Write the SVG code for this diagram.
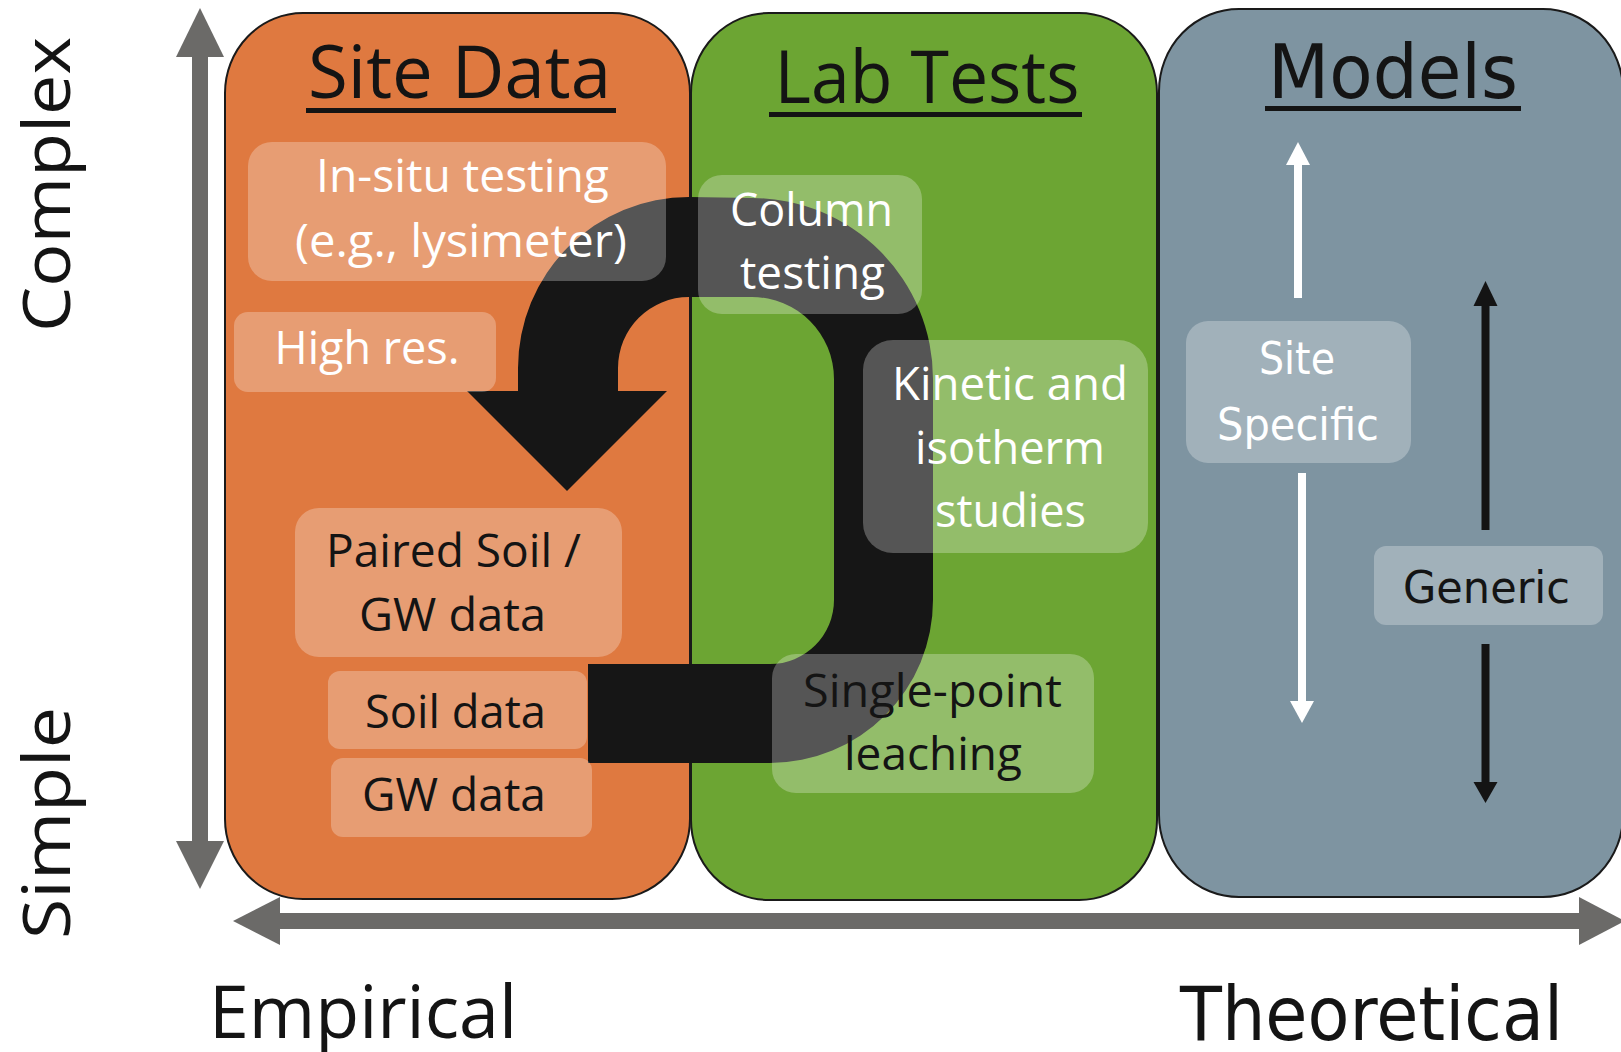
<svg xmlns="http://www.w3.org/2000/svg" width="1621" height="1052" viewBox="0 0 1621 1052">
<style>
.panel{stroke:#1a1a1a;stroke-width:2}
.box{fill:#ffffff;fill-opacity:0.27}
.t{font-family:"Open Sans","Liberation Sans",sans-serif;text-anchor:middle}
.v{font-family:"DejaVu Sans","Liberation Sans",sans-serif;text-anchor:middle}
.w{fill:#ffffff}
.k{fill:#141414}
.axis{fill:#6b6a68}
</style>
<rect width="1621" height="1052" fill="#ffffff"/>

<g id="axes">
  <rect class="axis" x="192" y="55" width="16" height="788"/>
  <polygon class="axis" points="176,57 200,8 224,57"/>
  <polygon class="axis" points="176,841 200,889 224,841"/>
  <rect class="axis" x="278" y="913" width="1303" height="16"/>
  <polygon class="axis" points="280,897 233,921 280,945"/>
  <polygon class="axis" points="1579,897 1625,921 1579,945"/>
  <text class="t k" font-size="66" transform="translate(70,184.5) rotate(-90)" textLength="295" lengthAdjust="spacingAndGlyphs">Complex</text>
  <text class="t k" font-size="66" transform="translate(70,823) rotate(-90)" textLength="232" lengthAdjust="spacingAndGlyphs">Simple</text>
  <text class="t k" font-size="74" x="363" y="1038" textLength="308" lengthAdjust="spacingAndGlyphs">Empirical</text>
  <text class="v k" font-size="74" x="1371.5" y="1040" textLength="383" lengthAdjust="spacingAndGlyphs">Theoretical</text>
</g>

<g id="site-data">
  <rect class="panel" x="225" y="13" width="465" height="886" rx="78" ry="80" fill="#df7940"/>
  <text class="t k" font-size="74" x="459.5" y="98" textLength="303" lengthAdjust="spacingAndGlyphs">Site Data</text>
  <rect x="306" y="108" width="310" height="5" fill="#141414"/>
</g>
<g id="lab-tests">
  <rect class="panel" x="691" y="13" width="466" height="887" rx="78" ry="80" fill="#6ca533"/>
  <text class="t k" font-size="74" x="927" y="103" textLength="305" lengthAdjust="spacingAndGlyphs">Lab Tests</text>
  <rect x="769" y="112" width="313" height="5" fill="#141414"/>
</g>
<g id="models">
  <rect class="panel" x="1159" y="9" width="464" height="888" rx="80" ry="82" fill="#7e94a1"/>
  <text class="v k" font-size="74" x="1393" y="98" textLength="250" lengthAdjust="spacingAndGlyphs">Models</text>
  <rect x="1265" y="106" width="256" height="5" fill="#141414"/>
</g>

<g id="connectors">
  <path id="cycle-arrow" fill="#161616" d="M567,491 L667,391 L618,391 L618,368 A71,71 0 0 1 689,297 L752,297 A82,82 0 0 1 834,379 L834,600 A64,64 0 0 1 770,664 L588,664 L588,763 L770,763 A163,163 0 0 0 933,600 L933,379 A181,181 0 0 0 752,198 L689,197 A171,171 0 0 0 518,368 L518,391 L467,391 Z"/>
  <g id="site-specific-arrows" fill="#ffffff">
    <rect x="1294" y="163" width="8" height="135"/>
    <polygon points="1286,165 1298,142 1310,165"/>
    <rect x="1298" y="473" width="8" height="230"/>
    <polygon points="1290,701 1314,701 1302,723"/>
  </g>
  <g id="generic-arrows" fill="#141414">
    <rect x="1481.5" y="304" width="8" height="226"/>
    <polygon points="1473.5,306 1485.5,281 1497.5,306"/>
    <rect x="1481.5" y="644" width="8" height="140"/>
    <polygon points="1473.5,782 1497.5,782 1485.5,803"/>
  </g>
</g>

<g id="in-situ">
  <rect class="box" x="248" y="142" width="418" height="139" rx="24"/>
  <text class="t w" font-size="45" x="462.5" y="192" textLength="293" lengthAdjust="spacingAndGlyphs">In-situ testing</text>
  <text class="t w" font-size="45" x="461" y="257" textLength="332" lengthAdjust="spacingAndGlyphs">(e.g., lysimeter)</text>
</g>
<g id="high-res">
  <rect class="box" x="234" y="312" width="262" height="80" rx="14"/>
  <text class="t w" font-size="45" x="367" y="364" textLength="185" lengthAdjust="spacingAndGlyphs">High res.</text>
</g>
<g id="paired">
  <rect class="box" x="295" y="508" width="327" height="149" rx="24"/>
  <text class="t k" font-size="45" x="453.5" y="567" textLength="255" lengthAdjust="spacingAndGlyphs">Paired Soil /</text>
  <text class="t k" font-size="45" x="452.5" y="631" textLength="187" lengthAdjust="spacingAndGlyphs">GW data</text>
</g>
<g id="soil-data">
  <rect class="box" x="328" y="671" width="259" height="78" rx="12"/>
  <text class="t k" font-size="45" x="455.5" y="728" textLength="181" lengthAdjust="spacingAndGlyphs">Soil data</text>
</g>
<g id="gw-data">
  <rect class="box" x="331" y="758" width="261" height="79" rx="12"/>
  <text class="t k" font-size="45" x="454" y="811" textLength="184" lengthAdjust="spacingAndGlyphs">GW data</text>
</g>
<g id="column-testing">
  <rect class="box" x="698" y="175" width="224" height="139" rx="24"/>
  <text class="t w" font-size="45" x="811.5" y="226" textLength="163" lengthAdjust="spacingAndGlyphs">Column</text>
  <text class="t w" font-size="45" x="812.5" y="289" textLength="145" lengthAdjust="spacingAndGlyphs">testing</text>
</g>
<g id="kinetic">
  <rect class="box" x="863" y="340" width="285" height="213" rx="30"/>
  <text class="t w" font-size="45" x="1010" y="400" textLength="236" lengthAdjust="spacingAndGlyphs">Kinetic and</text>
  <text class="t w" font-size="45" x="1010" y="464" textLength="190" lengthAdjust="spacingAndGlyphs">isotherm</text>
  <text class="t w" font-size="45" x="1010.5" y="527" textLength="151" lengthAdjust="spacingAndGlyphs">studies</text>
</g>
<g id="single-point">
  <rect class="box" x="772" y="654" width="322" height="139" rx="24"/>
  <text class="t k" font-size="45" x="932.5" y="707" textLength="259" lengthAdjust="spacingAndGlyphs">Single-point</text>
  <text class="t k" font-size="45" x="933" y="770" textLength="178" lengthAdjust="spacingAndGlyphs">leaching</text>
</g>
<g id="site-specific">
  <rect class="box" x="1186" y="321" width="225" height="142" rx="22"/>
  <text class="v w" font-size="45" x="1297" y="374" textLength="76" lengthAdjust="spacingAndGlyphs">Site</text>
  <text class="v w" font-size="45" x="1298" y="440" textLength="162" lengthAdjust="spacingAndGlyphs">Specific</text>
</g>
<g id="generic">
  <rect class="box" x="1374" y="546" width="229" height="79" rx="12"/>
  <text class="v k" font-size="45" x="1486.5" y="603" textLength="167" lengthAdjust="spacingAndGlyphs">Generic</text>
</g>
</svg>
